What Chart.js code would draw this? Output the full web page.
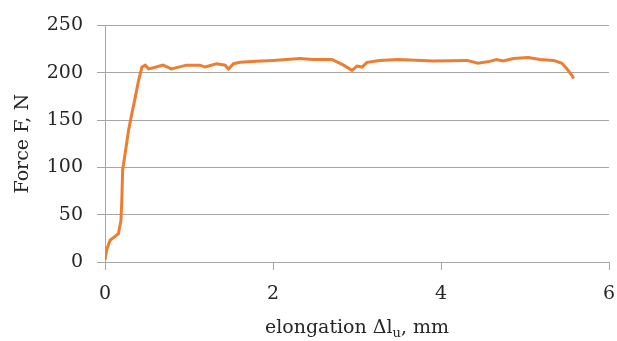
<!DOCTYPE html>
<html>
<head>
<meta charset="utf-8">
<script src="https://cdn.jsdelivr.net/npm/chart.js@4.4.1/dist/chart.umd.min.js"></script>
<style>
  html, body { margin: 0; padding: 0; background: #fff; }
  #wrap { width: 617px; height: 341px; }
</style>
</head>
<body>
<div id="wrap"><canvas id="forceChart" width="617" height="341"></canvas></div>
<script>
// elongation (mm) and force (N)
var elongation = [0, 0.02, 0.06, 0.12, 0.16, 0.19, 0.20, 0.21, 0.24, 0.28, 0.32, 0.36, 0.40, 0.44, 0.48, 0.52,
  0.61, 0.69, 0.79, 0.97, 1.13, 1.19, 1.33, 1.43, 1.47, 1.53, 1.61, 1.80, 2.00, 2.32, 2.48, 2.70, 2.84, 2.94,
  3.00, 3.06, 3.12, 3.27, 3.49, 3.91, 4.31, 4.44, 4.58, 4.66, 4.74, 4.86, 5.04, 5.18, 5.34, 5.44, 5.50, 5.56, 5.58];
var force = [2, 13, 23, 27, 30, 44, 65, 97, 115, 139, 157, 174, 192, 206, 208, 204,
  206, 208, 204, 208, 208, 206, 209.5, 208, 204, 209.5, 211, 212, 213, 215, 214, 214, 208, 202.5,
  207, 206, 211, 213, 214, 212.5, 213, 210, 212, 214, 212.5, 215, 216, 214, 213, 210, 204, 197, 194];
var yTicks = [0, 50, 100, 150, 200, 250];
var xTicks = [0, 2, 4, 6];

var points = elongation.map(function (x, i) { return { x: x, y: force[i] }; });

var axisFont = { family: "DejaVu Serif", size: 19 };
var textColor = "#262626";
var gridGray = "#a6a6a6";

// x title has a subscript, so it is drawn by hand under the axis
const xTitlePlugin = {
  id: "xTitle",
  afterDraw(chart) {
    const ctx = chart.ctx;
    const area = chart.chartArea;
    ctx.save();
    ctx.fillStyle = textColor;
    ctx.textBaseline = "alphabetic";
    const main = "elongation \u0394l";
    const sub = "u";
    const tail = ", mm";
    ctx.font = "19px 'DejaVu Serif'";
    const w1 = ctx.measureText(main).width;
    const w3 = ctx.measureText(tail).width;
    ctx.font = "13px 'DejaVu Serif'";
    const w2 = ctx.measureText(sub).width;
    const total = w1 + w2 + w3;
    let x = (area.left + area.right) / 2 - total / 2;
    const y = 333;
    ctx.font = "19px 'DejaVu Serif'";
    ctx.fillText(main, x, y);
    x += w1;
    ctx.font = "13px 'DejaVu Serif'";
    ctx.fillText(sub, x, y + 4);
    x += w2;
    ctx.font = "19px 'DejaVu Serif'";
    ctx.fillText(tail, x, y);
    ctx.restore();
  }
};

new Chart(document.getElementById("forceChart").getContext("2d"), {
  type: "scatter",
  data: {
    datasets: [{
      label: "Force",
      data: points,
      showLine: true,
      borderColor: "#ed7d31",
      backgroundColor: "#ed7d31",
      borderWidth: 3,
      pointRadius: 0,
      tension: 0
    }]
  },
  options: {
    responsive: false,
    animation: false,
    layout: { padding: { top: 25, right: 0, left: 0, bottom: 0 } },
    plugins: {
      legend: { display: false },
      tooltip: { enabled: false }
    },
    scales: {
      x: {
        type: "linear",
        min: 0,
        max: 6,
        afterBuildTicks: function (scale) { scale.ticks = xTicks.map(function (v) { return { value: v }; }); },
        afterFit: function (scale) {
          scale.height = 79;
          scale.paddingRight = 8;   // keep the plot reaching almost to the edge
        },
        ticks: { font: axisFont, color: textColor, padding: 13 },
        grid: { drawOnChartArea: false, tickLength: 8, color: gridGray },
        border: { color: gridGray }
      },
      y: {
        min: 0,
        max: 250,
        afterBuildTicks: function (scale) { scale.ticks = yTicks.map(function (v) { return { value: v }; }); },
        afterFit: function (scale) { scale.width = 105; },
        ticks: { font: axisFont, color: textColor, padding: 14 },
        grid: { tickLength: 8, color: gridGray },
        border: { color: gridGray },
        title: { display: true, text: "Force F, N", font: axisFont, color: textColor, padding: { top: 12, bottom: 0 } }
      }
    }
  },
  plugins: [xTitlePlugin]
});
</script>
</body>
</html>
